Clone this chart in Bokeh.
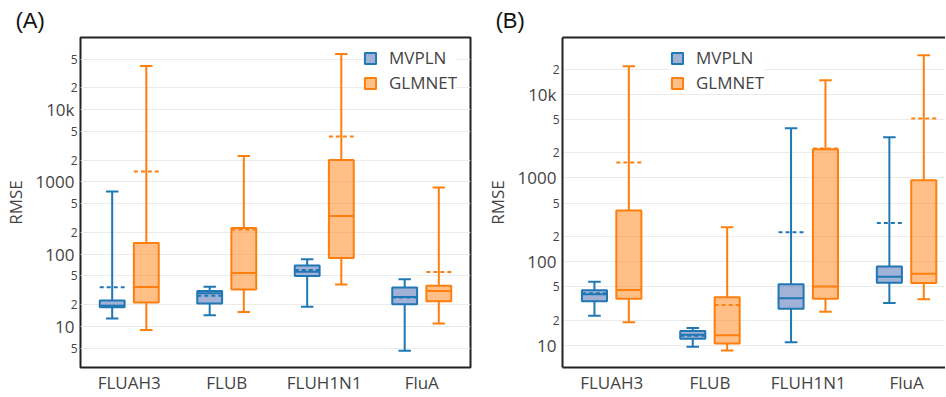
from bokeh.plotting import figure
from bokeh.models import (Range1d, LinearAxis, LogAxis, FixedTicker, ColumnDataSource,
                          Legend, LegendItem)
from bokeh.layouts import row
from bokeh.embed import file_html
from bokeh.resources import INLINE

categories = ["FLUAH3", "FLUB", "FLUH1N1", "FluA"]
series = ["MVPLN", "GLMNET"]

# ---------------- Panel A ----------------
a_mvpln_lower = [12.9, 14.3, 18.7, 4.6]
a_mvpln_q1 = [18.5, 20.8, 50.1, 20.3]
a_mvpln_median = [19.3, 28.9, 57.0, 25.6]
a_mvpln_q3 = [22.9, 31.0, 70.0, 34.6]
a_mvpln_upper = [737, 35.3, 85.3, 45.1]
a_mvpln_mean = [35.0, 26.5, 60.5, 25.1]

a_glmnet_lower = [8.9, 15.9, 38.1, 11.0]
a_glmnet_q1 = [21.5, 32.5, 88.9, 22.4]
a_glmnet_median = [35.2, 55.0, 339, 31.0]
a_glmnet_q3 = [143, 231, 2014, 36.5]
a_glmnet_upper = [40200, 2291, 58900, 836]
a_glmnet_mean = [1393, 220, 4246, 56.6]

# ---------------- Panel B ----------------
b_mvpln_lower = [22.5, 9.6, 10.9, 32.1]
b_mvpln_q1 = [33.6, 12.0, 27.3, 56.0]
b_mvpln_median = [40.8, 13.4, 36.6, 66.0]
b_mvpln_q3 = [45.5, 14.8, 53.6, 87.7]
b_mvpln_upper = [57.5, 16.1, 3918, 3062]
b_mvpln_mean = [42.0, 13.0, 224, 289]

b_glmnet_lower = [18.8, 8.65, 25.1, 35.6]
b_glmnet_q1 = [35.9, 10.5, 35.9, 55.6]
b_glmnet_median = [45.8, 13.2, 50.6, 71.6]
b_glmnet_q3 = [409, 37.5, 2208, 938]
b_glmnet_upper = [21600, 257, 14700, 29200]
b_glmnet_mean = [1535, 30.4, 2250, 5152]

# ---------------- Axes ----------------
major_ticks = [10, 100, 1000, 10000]
major_labels = ["10", "100", "1000", "10k"]
a_minor_ticks = [5, 20, 50, 200, 500, 2000, 5000, 20000, 50000]
a_minor_labels = ["5", "2", "5", "2", "5", "2", "5", "2", "5"]
b_minor_ticks = [20, 50, 200, 500, 2000, 5000, 20000]
b_minor_labels = ["2", "5", "2", "5", "2", "5", "2"]

LINE = {"MVPLN": "#1f77b4", "GLMNET": "#ff7f0e"}
FILL = {"MVPLN": "#4565b0", "GLMNET": "#ff7f0e"}
TXT = "#444444"
FRAME = "#222222"
FONT = "Open Sans"
OFFSET = {"MVPLN": -0.175, "GLMNET": 0.175}
BOXW = 0.255


def make_panel(tag, stats, y_lo, y_hi, x_end, minor_ticks, minor_labels,
               legend_x, width, left_border, right_border, full_outline, title_offset):
    p = figure(width=width, height=396,
               min_border_left=left_border, min_border_right=right_border,
               min_border_top=37, min_border_bottom=27,
               x_range=Range1d(0, x_end), y_range=Range1d(y_lo, y_hi),
               y_axis_type="log", y_axis_location=None,
               output_backend="svg", toolbar_location=None,
               background_fill_color="white", border_fill_color="white")

    # title "(A)" / "(B)"
    p.title.text = tag
    p.title.text_font = "Liberation Sans"
    p.title.text_font_size = "22px"
    p.title.text_font_style = "normal"
    p.title.text_color = "#111111"
    p.title.offset = title_offset
    p.title.standoff = 9

    # grid
    p.xgrid.visible = False
    p.ygrid.ticker = FixedTicker(ticks=sorted(major_ticks + minor_ticks))
    p.ygrid.grid_line_color = "#ebebeb"
    p.ygrid.grid_line_width = 1

    # x axis (categories)
    centers = [i + 0.5 for i in range(len(categories))]
    p.xaxis.ticker = FixedTicker(ticks=centers)
    p.xaxis.major_label_overrides = {c: n for c, n in zip(centers, categories)}
    p.xaxis.major_label_text_font_size = "17px"
    p.xaxis.major_label_text_font = FONT
    p.xaxis.major_label_text_color = TXT
    p.xaxis.major_label_standoff = 3
    p.xaxis.major_tick_out = 0
    p.xaxis.major_tick_in = 0
    p.xaxis.major_tick_line_color = None
    p.xaxis.minor_tick_line_color = None

    # y axis: small labels (2, 5) nearest the frame ...
    ax_minor = LogAxis(ticker=FixedTicker(ticks=minor_ticks),
                       major_label_overrides={t: l for t, l in zip(minor_ticks, minor_labels)},
                       major_label_text_font_size="12px", major_label_text_font=FONT,
                       major_label_text_color=TXT, major_label_standoff=3,
                       major_tick_out=0, major_tick_in=0,
                       major_tick_line_color=None, minor_tick_line_color=None,
                       axis_line_color=None)
    # ... decade labels (10, 100, 1000, 10k) aligned to the same right edge
    ax_major = LogAxis(ticker=FixedTicker(ticks=major_ticks),
                       major_label_overrides={t: l for t, l in zip(major_ticks, major_labels)},
                       major_label_text_font_size="17px", major_label_text_font=FONT,
                       major_label_text_color=TXT, major_label_standoff=-7,
                       major_tick_out=0, major_tick_in=0,
                       major_tick_line_color=None, minor_tick_line_color=None,
                       axis_line_color=None,
                       axis_label="RMSE", axis_label_text_font=FONT,
                       axis_label_text_font_size="17px", axis_label_text_font_style="normal",
                       axis_label_text_color=TXT, axis_label_standoff=6)
    p.add_layout(ax_minor, "left")
    p.add_layout(ax_major, "left")

    if full_outline:
        p.outline_line_color = FRAME
        p.outline_line_width = 2
        p.outline_line_alpha = 1
        p.xaxis.axis_line_color = None
    else:
        p.outline_line_color = None
        p.xaxis.axis_line_color = FRAME
        p.xaxis.axis_line_width = 2
        ax_minor.axis_line_color = FRAME
        ax_minor.axis_line_width = 2
        top = LinearAxis(ticker=FixedTicker(ticks=[]), axis_line_color=FRAME,
                         axis_line_width=2, major_tick_line_color=None,
                         major_tick_out=0, major_tick_in=0, major_label_standoff=0,
                         minor_tick_line_color=None, major_label_text_font_size="0px")
        p.add_layout(top, "above")

    legend_items = []
    for name in series:
        s = stats[name]
        xs = [c + OFFSET[name] for c in centers]
        src = ColumnDataSource(dict(
            x=xs,
            xl=[x - BOXW / 2 for x in xs], xr=[x + BOXW / 2 for x in xs],
            cl=[x - BOXW / 4 for x in xs], cr=[x + BOXW / 4 for x in xs],
            lower=s["lower"], q1=s["q1"], median=s["median"], q3=s["q3"],
            upper=s["upper"], mean=s["mean"]))
        col = LINE[name]
        p.segment(x0="x", y0="q3", x1="x", y1="upper", source=src, line_color=col, line_width=2)
        p.segment(x0="x", y0="q1", x1="x", y1="lower", source=src, line_color=col, line_width=2)
        p.segment(x0="cl", y0="upper", x1="cr", y1="upper", source=src, line_color=col, line_width=2)
        p.segment(x0="cl", y0="lower", x1="cr", y1="lower", source=src, line_color=col, line_width=2)
        box = p.vbar(x="x", width=BOXW, bottom="q1", top="q3", source=src,
                     fill_color=FILL[name], fill_alpha=0.5, line_color=col, line_width=2)
        p.segment(x0="xl", y0="median", x1="xr", y1="median", source=src, line_color=col, line_width=2)
        p.segment(x0="xl", y0="mean", x1="xr", y1="mean", source=src, line_color=col,
                  line_width=2, line_dash="4 3")
        legend_items.append(LegendItem(label=name, renderers=[box]))

    legend = Legend(items=legend_items, location=(legend_x, 273),
                    glyph_width=14, glyph_height=14, label_standoff=12,
                    label_height=22, spacing=2, padding=6, margin=0,
                    label_text_font=FONT, label_text_font_size="17px",
                    label_text_color=TXT, background_fill_color="white",
                    background_fill_alpha=1, border_line_color=None)
    p.add_layout(legend)
    return p


stats_a = {
    "MVPLN": dict(lower=a_mvpln_lower, q1=a_mvpln_q1, median=a_mvpln_median,
                  q3=a_mvpln_q3, upper=a_mvpln_upper, mean=a_mvpln_mean),
    "GLMNET": dict(lower=a_glmnet_lower, q1=a_glmnet_q1, median=a_glmnet_median,
                   q3=a_glmnet_q3, upper=a_glmnet_upper, mean=a_glmnet_mean),
}
stats_b = {
    "MVPLN": dict(lower=b_mvpln_lower, q1=b_mvpln_q1, median=b_mvpln_median,
                  q3=b_mvpln_q3, upper=b_mvpln_upper, mean=b_mvpln_mean),
    "GLMNET": dict(lower=b_glmnet_lower, q1=b_glmnet_q1, median=b_glmnet_median,
                   q3=b_glmnet_q3, upper=b_glmnet_upper, mean=b_glmnet_mean),
}

pa = make_panel("(A)", stats_a, 2.7, 100000, 4.0, a_minor_ticks, a_minor_labels,
                283, 480, 75, 10, True, -65)
pb = make_panel("(B)", stats_b, 5.43, 47700, 3.896, b_minor_ticks, b_minor_labels,
                108, 465, 82, 0, False, -67)

layout = row(pa, pb, spacing=0)
open("out.html", "w").write(file_html(layout, INLINE))
